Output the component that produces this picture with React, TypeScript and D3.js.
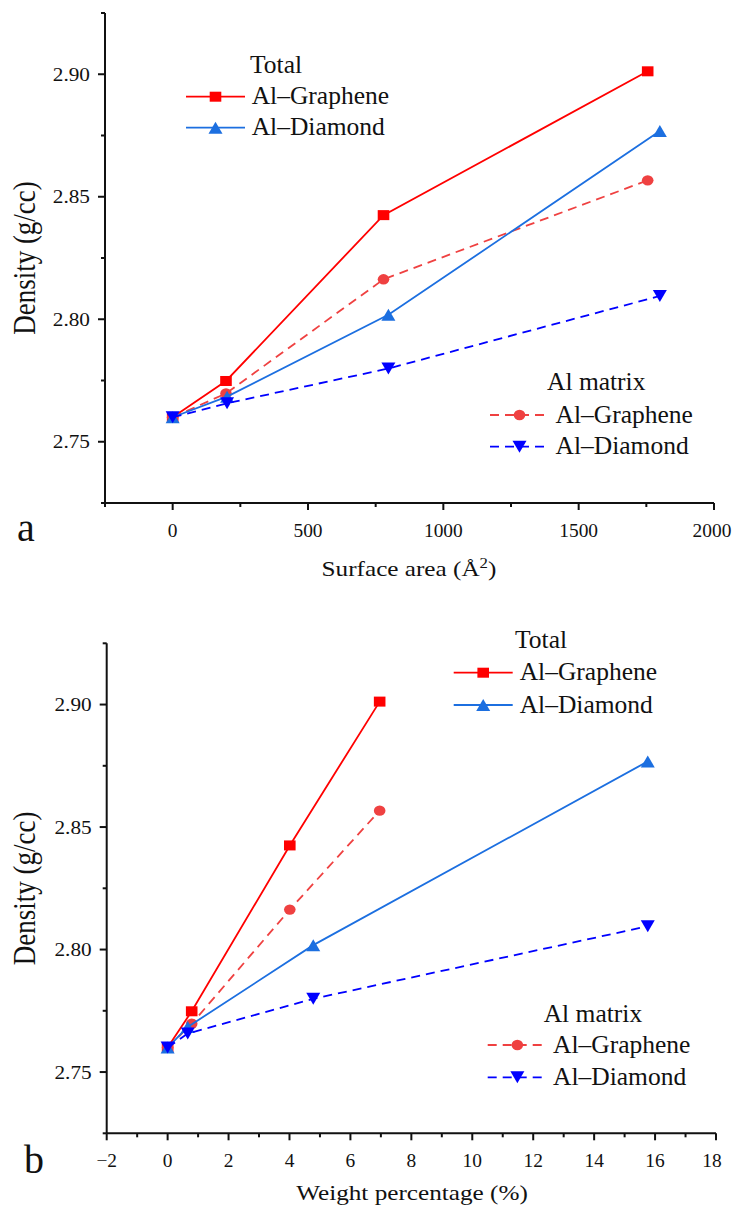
import React from "react";
import * as d3 from "d3";

const FONT = "Liberation Serif";

// x values: surface area (Å²) and weight percentage (%)
const areaGraphene = [0, 197, 779, 1755];
const areaDiamond = [0, 201, 797, 1800];
const wtGraphene = [0, 0.79, 4.01, 6.96];
const wtDiamond = [0, 0.66, 4.78, 15.76];

// densities (g/cc)
const totalGraphene = [2.76, 2.7748, 2.8425, 2.9012];
const totalDiamond = [2.76, 2.7684, 2.8018, 2.8768];
const matrixGraphene = [2.76, 2.7697, 2.8163, 2.8567];
const matrixDiamond = [2.76, 2.7657, 2.7799, 2.8095];

const yTicks = [2.75, 2.8, 2.85, 2.9];
const yMinor = [2.725, 2.775, 2.825, 2.875, 2.925];
const areaTicks = [0, 500, 1000, 1500, 2000];
const areaMinor = [-250, 250, 750, 1250, 1750];
const wtTicks = [-2, 0, 2, 4, 6, 8, 10, 12, 14, 16, 18];
const wtMinor = [-1, 1, 3, 5, 7, 9, 11, 13, 15, 17];

const RED = "#ff0000";
const LIGHT_RED = "#ef4141";
const MID_BLUE = "#1c6fe0";
const BLUE = "#0000ff";

type Kind = "square" | "circle" | "up" | "down";

const Marker = ({ kind, x, y, color }: { kind: Kind; x: number; y: number; color: string }) => {
  if (kind === "square") return <rect x={x - 5.8} y={y - 5} width={11.6} height={10} fill={color} />;
  if (kind === "circle") return <ellipse cx={x} cy={y} rx={5.8} ry={5.2} fill={color} />;
  const h = kind === "up" ? 6 : -6;
  return <path d={`M${x},${y - h}L${x + 7},${y + h}L${x - 7},${y + h}Z`} fill={color} />;
};

const T = ({ x, y, size, sx = 1, anchor = "start", rotate = false, children }: any) => (
  <text
    transform={`translate(${x},${y}) scale(${sx},1)${rotate ? " rotate(-90)" : ""}`}
    fontFamily={FONT}
    fontSize={size}
    textAnchor={anchor}
    fill="#111"
  >
    {children}
  </text>
);

const Legend = ({ title, tx, ty, rows, lx0, lx1, textX, dashed }: any) => (
  <g>
    <T x={tx} y={ty} size={25.5}>{title}</T>
    {rows.map((r: any, i: number) => (
      <g key={i}>
        <line x1={lx0} x2={lx1} y1={r.y} y2={r.y} stroke={r.color} strokeWidth={1.8}
          strokeDasharray={dashed ? "9,6" : undefined} />
        <Marker kind={r.kind} x={(lx0 + lx1) / 2} y={r.y} color={r.color} />
        <T x={textX} y={r.y + 7.5} size={25.5}>{r.label}</T>
      </g>
    ))}
  </g>
);

const Panel = ({ xRange, yRange, xDomain, xTicks, xMinor, xG, xD, xTitle, xTitleX, xTitleY, letter, letterX, letterY, legTotal, legMatrix }: any) => {
  const x = d3.scaleLinear().domain(xDomain).range(xRange);
  const y = d3.scaleLinear().domain([2.725, 2.925]).range(yRange);
  const x0 = xRange[0];
  const yb = yRange[0];
  const series = [
    { xs: xG, ys: totalGraphene, color: RED, kind: "square", dash: false },
    { xs: xG, ys: matrixGraphene, color: LIGHT_RED, kind: "circle", dash: true },
    { xs: xD, ys: totalDiamond, color: MID_BLUE, kind: "up", dash: false },
    { xs: xD, ys: matrixDiamond, color: BLUE, kind: "down", dash: true },
  ];
  const line = d3.line<[number, number]>().x((d) => x(d[0])).y((d) => y(d[1]));
  const fmt = (v: number) => (v < 0 ? `\u2212${Math.abs(v)}` : `${v}`);
  return (
    <g>
      {/* axes */}
      <line x1={x0} x2={x0} y1={yRange[1]} y2={yb} stroke="#111" strokeWidth={2} />
      <line x1={x0} x2={xRange[1]} y1={yb} y2={yb} stroke="#111" strokeWidth={2} />
      {yTicks.map((t) => (
        <g key={t}>
          <line x1={x0 - 7} x2={x0} y1={y(t)} y2={y(t)} stroke="#111" strokeWidth={2} />
          <T x={x0 - 15} y={y(t) + 6.5} size={19} sx={1.12} anchor="end">{t.toFixed(2)}</T>
        </g>
      ))}
      {yMinor.map((t) => (
        <line key={t} x1={x0 - 4} x2={x0} y1={y(t)} y2={y(t)} stroke="#111" strokeWidth={2} />
      ))}
      {xTicks.map((t: number) => (
        <g key={t}>
          <line x1={x(t)} x2={x(t)} y1={yb} y2={yb + 7} stroke="#111" strokeWidth={2} />
          <T x={Math.min(x(t), 712)} y={yb + 34} size={18.5} sx={1.05} anchor="middle">{fmt(t)}</T>
        </g>
      ))}
      {xMinor.map((t: number) => (
        <line key={t} x1={x(t)} x2={x(t)} y1={yb} y2={yb + 4} stroke="#111" strokeWidth={2} />
      ))}
      <T x={35} y={(yRange[0] + yRange[1]) / 2} size={27} sx={1.2} anchor="middle" rotate>Density (g/cc)</T>
      <T x={xTitleX} y={xTitleY} size={21} sx={1.2} anchor="middle">{xTitle}</T>
      <T x={letterX} y={letterY} size={40}>{letter}</T>

      {/* series */}
      {series.map((s, i) => {
        const pts = s.xs.map((v: number, j: number) => [v, s.ys[j]] as [number, number]);
        return (
          <g key={i}>
            <path d={line(pts) || ""} fill="none" stroke={s.color} strokeWidth={1.8}
              strokeDasharray={s.dash ? "9,6" : undefined} />
            {pts.map((p, j) => (
              <Marker key={j} kind={s.kind as Kind} x={x(p[0])} y={y(p[1])} color={s.color} />
            ))}
          </g>
        );
      })}

      <Legend {...legTotal} title="Total" dashed={false}
        rows={[
          { y: legTotal.r1, color: RED, kind: "square", label: "Al\u2013Graphene" },
          { y: legTotal.r2, color: MID_BLUE, kind: "up", label: "Al\u2013Diamond" },
        ]} />
      <Legend {...legMatrix} title="Al matrix" dashed
        rows={[
          { y: legMatrix.r1, color: LIGHT_RED, kind: "circle", label: "Al\u2013Graphene" },
          { y: legMatrix.r2, color: BLUE, kind: "down", label: "Al\u2013Diamond" },
        ]} />
    </g>
  );
};

export default function App() {
  return (
    <svg width={734} height={1211} style={{ position: "absolute", left: 0, top: 0, background: "#fff" }}>
      <Panel
        xRange={[105, 714]} yRange={[503, 13]} xDomain={[-250, 2000]}
        xTicks={areaTicks} xMinor={areaMinor} xG={areaGraphene} xD={areaDiamond}
        xTitle={<>Surface area (Å<tspan dy={-8} fontSize={14}>2</tspan><tspan dy={8}>)</tspan></>}
        xTitleX={409} xTitleY={576} letter="a" letterX={17} letterY={541}
        legTotal={{ tx: 250, ty: 73, r1: 96.7, r2: 127.7, lx0: 186, lx1: 245, textX: 251.7 }}
        legMatrix={{ tx: 547, ty: 390, r1: 415, r2: 446.7, lx0: 490, lx1: 549, textX: 555.5 }}
      />
      <Panel
        xRange={[106.7, 716]} yRange={[1133.3, 643.3]} xDomain={[-2, 18]}
        xTicks={wtTicks} xMinor={wtMinor} xG={wtGraphene} xD={wtDiamond}
        xTitle="Weight percentage (%)"
        xTitleX={412} xTitleY={1200} letter="b" letterX={24} letterY={1173}
        legTotal={{ tx: 515, ty: 648, r1: 672.7, r2: 705, lx0: 453.7, lx1: 512.7, textX: 519.7 }}
        legMatrix={{ tx: 543.7, ty: 1021.7, r1: 1045, r2: 1077.3, lx0: 487.7, lx1: 547, textX: 553 }}
      />
    </svg>
  );
}
